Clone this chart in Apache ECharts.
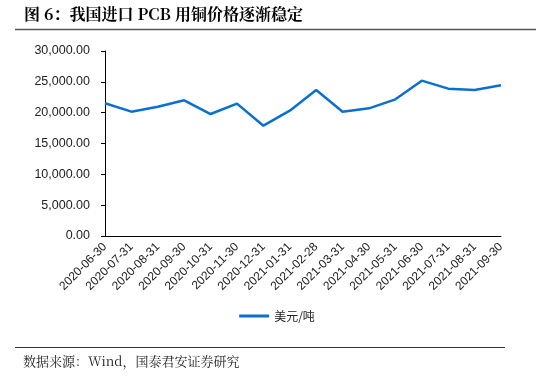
<!DOCTYPE html>
<html><head><meta charset="utf-8">
<script src="https://cdn.jsdelivr.net/npm/echarts@6/dist/echarts.min.js"></script>
<style>html,body{margin:0;padding:0;background:#fff}#c{width:554px;height:383px}</style>
</head><body><div id="c"></div>
<script>
var categories = ['2020-06-30','2020-07-31','2020-08-31','2020-09-30','2020-10-31','2020-11-30','2020-12-31','2021-01-31','2021-02-28','2021-03-31','2021-04-30','2021-05-31','2021-06-30','2021-07-31','2021-08-31','2021-09-30'];
var priceUsdPerTon = [21520,20160,20970,22000,19780,21460,17890,20320,23680,20160,20700,22160,25190,23890,23680,24430];
var seriesName = '美元/吨';
var titleText = '图 6：我国进口 PCB 用铜价格逐渐稳定';
var sourceText = '数据来源：Wind，国泰君安证券研究';

var chart = echarts.init(document.getElementById('c'));
var font = '"Noto Sans CJK SC", sans-serif';
chart.setOption({
  animation: false,
  backgroundColor: '#fff',
  grid: {left: 105, right: 53, top: 51, bottom: 147, containLabel: false},
  legend: {
    bottom: 56, left: 'center',
    itemWidth: 30, itemHeight: 3, itemGap: 4,
    icon: 'rect',
    textStyle: {fontSize: 12, color: '#222', fontFamily: font},
    data: [seriesName]
  },
  xAxis: {
    type: 'category', data: categories, boundaryGap: false,
    axisLine: {lineStyle: {color: '#000', width: 1}},
    axisTick: {show: false},
    axisLabel: {rotate: 45, fontSize: 12, color: '#222', margin: 9, interval: 0, fontFamily: 'Arial, sans-serif'}
  },
  yAxis: {
    type: 'value', min: 0, max: 30000, interval: 5000,
    axisLine: {show: true, lineStyle: {color: '#000', width: 1}},
    axisTick: {show: true, length: 4, inside: false, lineStyle: {color: '#000'}},
    splitLine: {show: false},
    axisLabel: {fontSize: 12.5, color: '#222', margin: 15, fontFamily: 'Arial, sans-serif',
      formatter: function(v){ return v.toLocaleString('en-US',{minimumFractionDigits:2, maximumFractionDigits:2}); }}
  },
  series: [{
    name: seriesName, type: 'line', data: priceUsdPerTon,
    symbol: 'none', lineStyle: {color: '#0a70d0', width: 2.5}, itemStyle: {color: '#0a70d0'}
  }],
  graphic: [
    {type: 'text', left: 24, top: 6, style: {text: titleText, fill: '#000', font: 'bold 16px "Noto Serif CJK SC", "Noto Sans CJK SC", serif'}},
    {type: 'line', shape: {x1: 15, y1: 29.5, x2: 536, y2: 29.5}, style: {stroke: '#555', lineWidth: 1.5}},
    {type: 'line', shape: {x1: 15, y1: 347.5, x2: 505, y2: 347.5}, style: {stroke: '#333', lineWidth: 1}},
    {type: 'text', left: 23, top: 355, style: {text: sourceText, fill: '#222', font: '13px "Noto Serif CJK SC", "Noto Sans CJK SC", serif'}}
  ]
});
</script></body></html>
